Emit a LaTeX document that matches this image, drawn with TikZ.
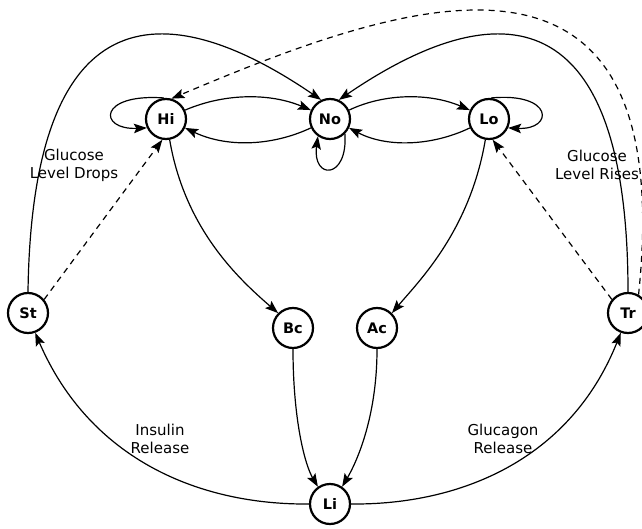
\documentclass[tikz,border=0pt]{standalone}
\usepackage{fontspec}
\setmainfont{DejaVu Sans}
\usetikzlibrary{arrows.meta}
\begin{document}
\begin{tikzpicture}[x=1pt,y=-1pt,
  state/.style={circle,draw,line width=2.2pt,minimum size=40pt,inner sep=0pt,font=\fontsize{14.5}{16}\selectfont\bfseries},
  edge/.style={line width=1.2pt,-{Stealth[length=13pt,width=9.5pt,inset=2.5pt]}},
  dedge/.style={edge,dash pattern=on 6pt off 5pt},
  lbl/.style={align=center,font=\fontsize{15}{18}\selectfont}]
\useasboundingbox (0,0) rectangle (642,529);

\node[state] (Hi) at (166,119) {Hi};
\node[state] (No) at (330,119) {No};
\node[state] (Lo) at (489,119) {Lo};
\node[state] (St) at (28,313) {St};
\node[state] (Tr) at (628,313) {Tr};
\node[state] (Bc) at (293,328) {Bc};
\node[state] (Ac) at (377,328) {Ac};
\node[state] (Li) at (330,504) {Li};

\node[lbl] (l1) at (74,165) {Glucose\\Level Drops};
\node[lbl] (l2) at (597,165) {Glucose\\Level Rises};
\node[lbl] (l3) at (160,439) {Insulin\\Release};
\node[lbl] (l4) at (503,439) {Glucagon\\Release};

\draw[edge] (Hi.25) .. controls (225,93) and (270,93) .. (No.155);
\draw[edge] (No.205) .. controls (270,147) and (225,147) .. (Hi.-25);
\draw[edge] (No.25) .. controls (385,93) and (430,93) .. (Lo.155);
\draw[edge] (Lo.205) .. controls (430,147) and (385,147) .. (No.-25);
\draw[edge] (Hi.95) .. controls (98,93) and (98,130) .. (Hi.205);
\draw[edge] (No.-45) .. controls (348,180) and (312,180) .. (No.-125);
\draw[edge] (Lo.85) .. controls (554,92) and (554,130) .. (Lo.-25);

\draw[edge] (Hi.-80) .. controls (185,230) and (240,280) .. (Bc.135);
\draw[edge] (Lo.-100) .. controls (470,230) and (420,280) .. (Ac.45);
\draw[edge] (Bc.south) .. controls (293,420) and (305,465) .. (Li.125);
\draw[edge] (Ac.south) .. controls (377,420) and (355,465) .. (Li.55);

\draw[edge] (Li.west) .. controls (200,505) and (90,460) .. (St.-70);
\draw[edge] (Li.east) .. controls (460,505) and (570,460) .. (Tr.-110);

\draw[edge] (St.north) .. controls (32,0) and (160,-10) .. (No.115);
\draw[edge] (Tr.north) .. controls (628,0) and (500,-10) .. (No.65);

\draw[dedge] (Tr.60) .. controls (680,-100) and (400,2) .. (Hi.75);
\draw[dedge] (St.40) -- (Hi.-100);
\draw[dedge] (Tr.140) -- (Lo.-80);
\end{tikzpicture}
\end{document}
